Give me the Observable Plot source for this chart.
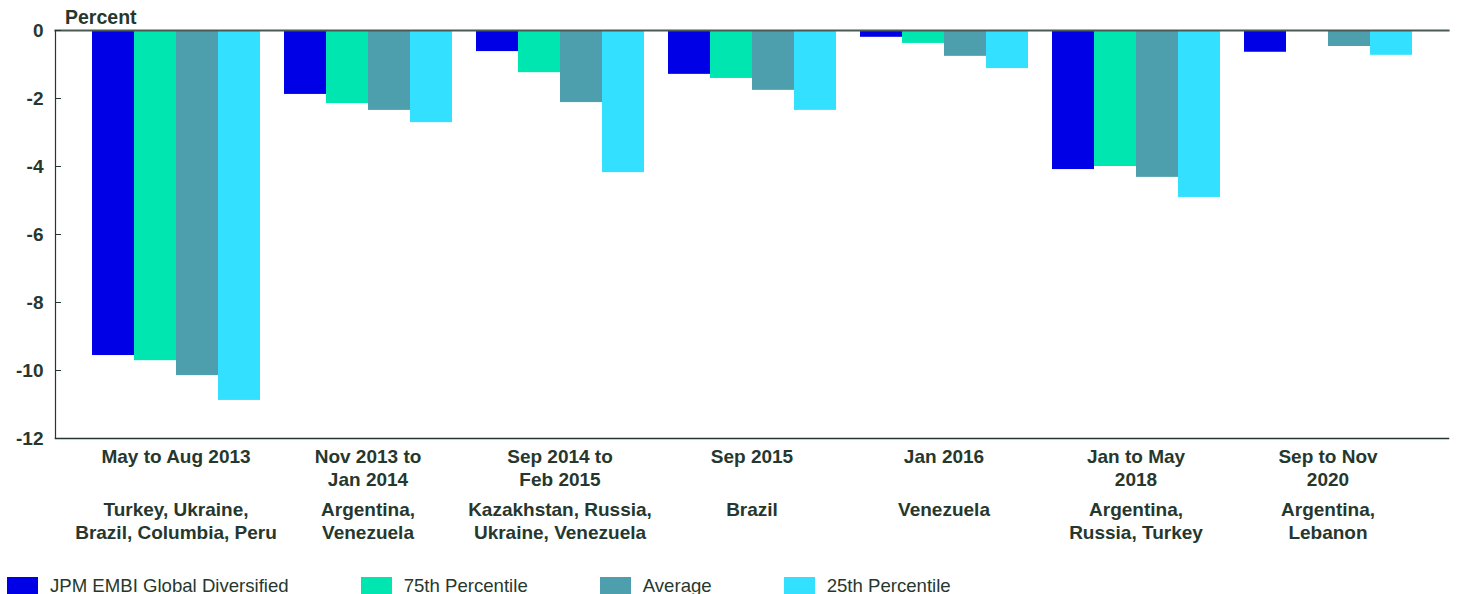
<!DOCTYPE html>
<html>
<head>
<meta charset="utf-8">
<script src="https://cdn.jsdelivr.net/npm/d3@7"></script>
<script src="https://cdn.jsdelivr.net/npm/@observablehq/plot@0.6"></script>
<style>
  html, body { margin: 0; padding: 0; background: #fff; }
  #wrap { position: relative; width: 1457px; font-family: "Liberation Sans", Arial, sans-serif; color: #26382e; }
  #chart svg { display: block; }
  #ylabel { position: absolute; left: 65px; top: 8px; font-weight: 700; font-size: 19.5px; line-height: 1; }
  #legend { display: flex; align-items: center; margin-top: 19px; padding-left: 7px; font-size: 18.6px; line-height: 18px; }
  #legend .item { display: flex; align-items: center; margin-right: 72px; }
  #legend .sw { width: 31px; height: 18px; margin-right: 12px; }
</style>
</head>
<body>
<div id="wrap">
  <div id="ylabel">Percent</div>
  <div id="chart"></div>
  <div id="legend"></div>
</div>
<script>
const periods = ["May to Aug 2013", "Nov 2013 to\nJan 2014", "Sep 2014 to\nFeb 2015", "Sep 2015", "Jan 2016", "Jan to May\n2018", "Sep to Nov\n2020"];
const countries = ["Turkey, Ukraine,\nBrazil, Columbia, Peru", "Argentina,\nVenezuela", "Kazakhstan, Russia,\nUkraine, Venezuela", "Brazil", "Venezuela", "Argentina,\nRussia, Turkey", "Argentina,\nLebanon"];
const seriesNames = ["JPM EMBI Global Diversified", "75th Percentile", "Average", "25th Percentile"];
const seriesColors = ["#0000e6", "#00e6b0", "#4d9fad", "#33e0ff"];
const embi = [-9.56, -1.88, -0.62, -1.29, -0.2, -4.09, -0.64];
const p75 = [-9.71, -2.15, -1.24, -1.41, -0.38, -4.0, 0];
const avg = [-10.15, -2.35, -2.12, -1.76, -0.76, -4.32, -0.47];
const p25 = [-10.88, -2.71, -4.18, -2.35, -1.12, -4.91, -0.73];
const yTicks = [0, -2, -4, -6, -8, -10, -12];

const seriesValues = [embi, p75, avg, p25];
const data = [];
periods.forEach((p, i) => {
  seriesNames.forEach((s, j) => {
    data.push({period: p, series: s, value: seriesValues[j][i]});
  });
});
const countryOf = new Map(periods.map((p, i) => [p, countries[i]]));
const ink = "#26382e";
const font = "'Liberation Sans', Arial, sans-serif";

const chart = Plot.plot({
  width: 1457,
  height: 558,
  marginLeft: 55,
  marginRight: 9,
  marginTop: 30,
  marginBottom: 120,
  style: {fontFamily: font, color: ink, background: "#fff"},
  fx: {domain: periods, paddingInner: 0.11, paddingOuter: 0.18, axis: null, label: null},
  x: {domain: seriesNames, padding: 0, axis: null},
  y: {domain: [-12, 0], axis: null, label: null},
  color: {domain: seriesNames, range: seriesColors},
  marks: [
    Plot.barY(data, {fx: "period", x: "series", y: "value", fill: "series"}),
    Plot.frame({anchor: "bottom", stroke: ink, strokeWidth: 1.5, facet: "super", insetLeft: -35, insetRight: -35}),
    Plot.frame({anchor: "top", stroke: "#4a5a52", strokeWidth: 2.2, facet: "super", insetLeft: -35, insetRight: -35}),
    Plot.frame({anchor: "left", stroke: ink, strokeWidth: 1.2, facet: "super", insetLeft: -35}),
    Plot.axisY(yTicks, {anchor: "left", tickSize: 0, tickPadding: 47, fontSize: 19, fontWeight: 700, fill: ink, label: null, tickFormat: d => String(d)}),
    Plot.axisY(yTicks, {anchor: "left", tickSize: 6, dx: -29, fill: "none", stroke: ink, label: null}),
    Plot.axisFx({anchor: "bottom", tickSize: 0, tickPadding: 7, fontSize: 19, fontWeight: 700, fill: ink, lineHeight: 1.26, label: null}),
    Plot.axisFx({anchor: "bottom", tickSize: 0, tickPadding: 60, fontSize: 19, fontWeight: 700, fill: ink, lineHeight: 1.26, label: null, tickFormat: d => countryOf.get(d)})
  ]
});
document.getElementById("chart").appendChild(chart);

const legend = document.getElementById("legend");
seriesNames.forEach((s, i) => {
  const item = document.createElement("div");
  item.className = "item";
  const sw = document.createElement("div");
  sw.className = "sw";
  sw.style.background = seriesColors[i];
  const t = document.createElement("span");
  t.textContent = s;
  item.appendChild(sw);
  item.appendChild(t);
  legend.appendChild(item);
});
</script>
</body>
</html>
